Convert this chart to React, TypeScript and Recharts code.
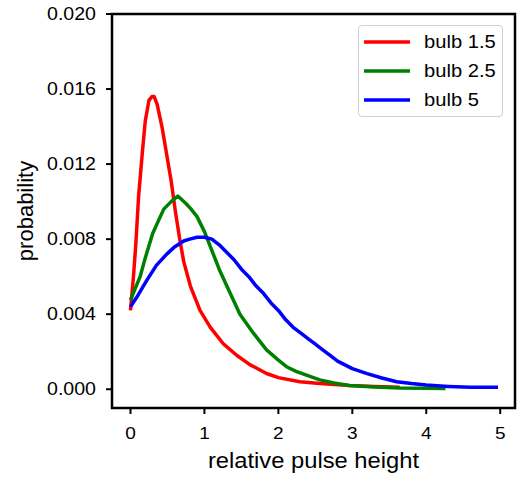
import React from "react";
import { LineChart, Line, XAxis, YAxis, Legend, ReferenceArea } from "recharts";

const xTicks = [0, 1, 2, 3, 4, 5];
const yTicks = [0, 0.004, 0.008, 0.012, 0.016, 0.02];

const bulb15X = [0, 0.04, 0.07, 0.11, 0.16, 0.2, 0.25, 0.29, 0.32, 0.36, 0.43, 0.49, 0.55, 0.61, 0.67, 0.72, 0.81, 0.94, 1.08, 1.26, 1.44, 1.62, 1.84, 2.0, 2.29, 2.56, 2.96, 3.3, 3.64];
const bulb15Y = [0.0042, 0.0060, 0.0076, 0.0103, 0.0126, 0.0143, 0.0154, 0.0156, 0.0156, 0.0152, 0.0139, 0.0125, 0.0111, 0.0094, 0.0079, 0.0068, 0.0055, 0.0042, 0.0033, 0.0024, 0.0018, 0.0013, 0.00084, 0.00062, 0.0004, 0.0003, 0.0002, 0.00015, 0.0001];

const bulb25X = [0, 0.13, 0.2, 0.3, 0.38, 0.45, 0.55, 0.64, 0.75, 0.82, 0.9, 1.0, 1.08, 1.21, 1.35, 1.48, 1.66, 1.84, 2.0, 2.11, 2.24, 2.38, 2.56, 2.75, 2.96, 3.3, 3.64, 4.0, 4.26];
const bulb25Y = [0.00475, 0.0060, 0.0070, 0.0083, 0.0090, 0.0096, 0.0100, 0.0103, 0.0099, 0.0096, 0.0092, 0.0084, 0.0076, 0.0063, 0.0051, 0.0040, 0.0030, 0.0021, 0.00155, 0.0012, 0.00095, 0.00075, 0.0005, 0.00033, 0.0002, 0.00012, 0.00007, 0.00005, 0.00004];

const bulb5X = [0, 0.1, 0.22, 0.35, 0.49, 0.6, 0.72, 0.8, 0.9, 1.0, 1.1, 1.2, 1.3, 1.4, 1.5, 1.6, 1.7, 1.8, 1.9, 2.0, 2.1, 2.2, 2.3, 2.4, 2.5, 2.6, 2.7, 2.8, 2.9, 3.0, 3.2, 3.4, 3.6, 3.8, 4.0, 4.3, 4.6, 4.97];
const bulb5Y = [0.0044, 0.0050, 0.0058, 0.0066, 0.0072, 0.0076, 0.0079, 0.0080, 0.0081, 0.0081, 0.0080, 0.0077, 0.0073, 0.0069, 0.0064, 0.0060, 0.0055, 0.0051, 0.0046, 0.0042, 0.0037, 0.0033, 0.0030, 0.0027, 0.0024, 0.0021, 0.0018, 0.0015, 0.0013, 0.0011, 0.00083, 0.0006, 0.0004, 0.0003, 0.00022, 0.00015, 0.0001, 0.0001];

const seriesNames = ["bulb 1.5", "bulb 2.5", "bulb 5"];
const seriesColors = ["#ff0000", "#008000", "#0000ff"];

const toPoints = (xs: number[], ys: number[]) => xs.map((x, i) => ({ x, y: ys[i] }));

const series = [
  toPoints(bulb15X, bulb15Y),
  toPoints(bulb25X, bulb25Y),
  toPoints(bulb5X, bulb5Y),
];

const FONT = "'Liberation Sans', Arial, Helvetica, sans-serif";

const XTick = (props: any) => {
  const { x, y, payload } = props;
  return (
    <text
      x={x}
      y={y}
      dy="0.71em"
      textAnchor="middle"
      fontSize={17}
      fontFamily={FONT}
      fill="#000"
      transform={`translate(${x},0) scale(1.12,1) translate(${-x},0)`}
    >
      {payload.value}
    </text>
  );
};

const YTick = (props: any) => {
  const { x, y, payload } = props;
  return (
    <text
      x={x}
      y={y}
      dy="0.355em"
      textAnchor="end"
      fontSize={17.5}
      fontFamily={FONT}
      fill="#000"
      transform={`translate(${x},0) scale(1.12,1) translate(${-x},0)`}
    >
      {Number(payload.value).toFixed(3)}
    </text>
  );
};

const XLabel = (props: any) => {
  const vb = props.viewBox || { x: 112, width: 403, y: 408 };
  const cx = vb.x + vb.width / 2;
  return (
    <text
      x={cx}
      y={468}
      textAnchor="middle"
      fontSize={22}
      fontFamily={FONT}
      fill="#000"
      transform={`translate(${cx},0) scale(1.08,1) translate(${-cx},0)`}
    >
      relative pulse height
    </text>
  );
};

const YLabel = () => (
  <text
    x={33}
    y={211}
    textAnchor="middle"
    fontSize={22}
    fontFamily={FONT}
    fill="#000"
    transform="rotate(-90, 33, 211)"
  >
    probability
  </text>
);

const LegendBox = () => (
  <div
    style={{
      width: 145,
      height: 92,
      border: "1px solid #d0d0d0",
      borderRadius: 4,
      background: "rgba(255,255,255,0.85)",
      boxSizing: "border-box",
      position: "relative",
      fontFamily: FONT,
    }}
  >
    <svg width={145} height={92} style={{ position: "absolute", left: 0, top: 0 }}>
      {seriesNames.map((name, i) => (
        <g key={name}>
          <line x1={5} x2={51} y1={16 + i * 29} y2={16 + i * 29} stroke={seriesColors[i]} strokeWidth={3.5} />
          <text
            x={65}
            y={16 + i * 29}
            dy="0.355em"
            fontSize={18}
            fontFamily={FONT}
            fill="#000"
            transform={`translate(65,0) scale(1.12,1) translate(-65,0)`}
          >
            {name}
          </text>
        </g>
      ))}
    </svg>
  </div>
);

export default function App() {
  return (
    <div style={{ position: "absolute", left: 0, top: 0, background: "#fff" }}>
      <LineChart width={519} height={477} margin={{ top: 14, right: 4, bottom: 29, left: 12 }}>
        <XAxis
          dataKey="x"
          type="number"
          domain={[-0.25, 5.2]}
          allowDataOverflow
          ticks={xTicks}
          tick={<XTick />}
          tickSize={6}
          tickMargin={13}
          tickLine={{ stroke: "#000", strokeWidth: 2 }}
          axisLine={false}
          height={40}
          label={<XLabel />}
        />
        <YAxis
          dataKey="y"
          type="number"
          domain={[-0.001, 0.02]}
          allowDataOverflow
          ticks={yTicks}
          tick={<YTick />}
          tickSize={6}
          tickMargin={10}
          tickLine={{ stroke: "#000", strokeWidth: 2 }}
          axisLine={false}
          width={100}
          label={<YLabel />}
        />
        {series.map((data, i) => (
          <Line
            key={seriesNames[i]}
            data={data}
            dataKey="y"
            name={seriesNames[i]}
            type="linear"
            stroke={seriesColors[i]}
            strokeWidth={3.5}
            strokeLinejoin="round"
            dot={false}
            activeDot={false}
            isAnimationActive={false}
          />
        ))}
        <ReferenceArea
          x1={-0.25}
          x2={5.2}
          y1={-0.001}
          y2={0.02}
          fill="none"
          fillOpacity={0}
          stroke="#000"
          strokeWidth={2.5}
          ifOverflow="visible"
        />
        <Legend
          layout="vertical"
          align="center"
          verticalAlign="middle"
          content={<LegendBox />}
          wrapperStyle={{ position: "absolute", left: 358, top: 25, width: 145, height: 92 }}
        />
      </LineChart>
    </div>
  );
}
